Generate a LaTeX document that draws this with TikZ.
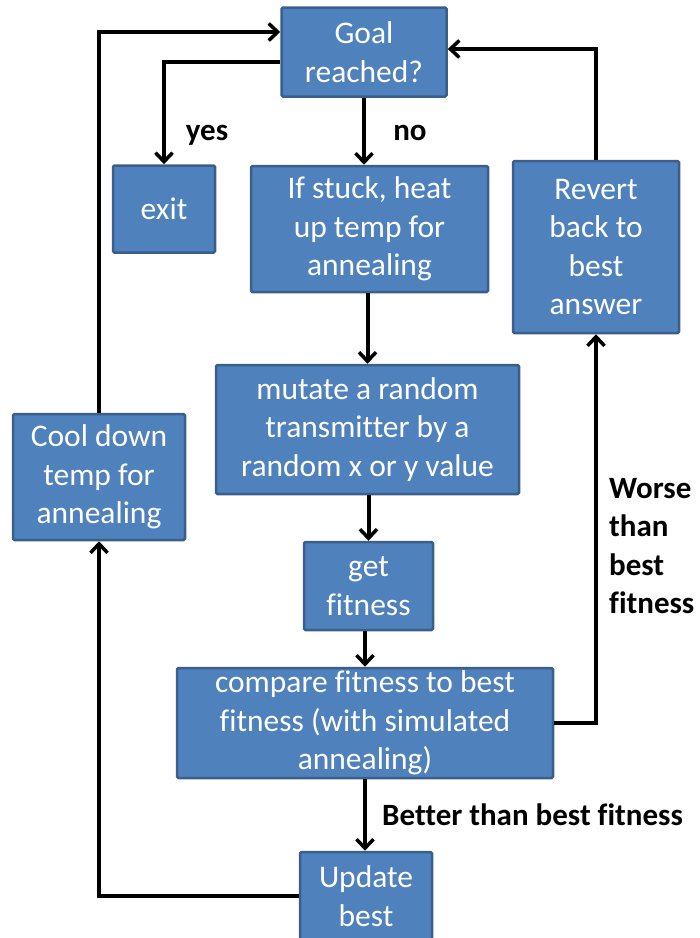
\documentclass[tikz,border=0pt]{standalone}
\usepackage{fontspec}
\setmainfont[Ligatures=NoCommon]{Carlito}
\usetikzlibrary{arrows.meta}
\definecolor{boxfill}{HTML}{4F81BD}
\definecolor{boxline}{HTML}{3A5F8C}
\tikzset{
  flowbox/.style={draw=boxline, line width=2.5pt, fill=boxfill, text=white,
    rounded corners=1.5pt, align=center, inner sep=0pt,
    font=\fontsize{31.5}{38.5}\selectfont},
  link/.style={line width=4pt, -{Straight Barb[length=9pt,width=17pt,line width=3.5pt]}},
  note/.style={font=\fontsize{31}{38.5}\selectfont\bfseries, text=black, inner sep=0pt}
}
\begin{document}
\begin{tikzpicture}[x=1pt,y=-1pt]
  \useasboundingbox (0,0) rectangle (700,938);
  \clip (0,0) rectangle (700,938);
  % process boxes
  \node[flowbox, minimum width=165pt, minimum height=89pt]  (goal)    at (364,52)    {Goal\\reached?};
  \node[flowbox, minimum width=102pt, minimum height=87pt]  (exit)    at (164,209)   {exit};
  \node[flowbox, minimum width=237pt, minimum height=126pt] (stuck)   at (369.5,229) {If stuck, heat\\up temp for\\annealing};
  \node[flowbox, minimum width=166pt, minimum height=172pt] (revert)  at (596,247)   {Revert\\back to\\best\\answer};
  \node[flowbox, minimum width=303pt, minimum height=129pt] (mutate)  at (367.5,429.5) {mutate a random\\transmitter by a\\random x or y value};
  \node[flowbox, minimum width=172pt, minimum height=126pt] (cool)    at (99,477)    {Cool down\\temp for\\annealing};
  \node[flowbox, minimum width=129pt, minimum height=88pt]  (getfit)  at (368.5,586) {get\\fitness};
  \node[flowbox, minimum width=376pt, minimum height=110pt] (compare) at (365,723)   {compare fitness to best\\fitness (with simulated\\annealing)};
  \node[flowbox, minimum width=132pt, minimum height=88pt]  (update)  at (366,896)   {Update\\best};

  % connectors
  \draw[link] (goal.south) -- (goal.south |- stuck.north);
  \draw[link] ([yshift=-10pt]goal.west) -| (exit.north);
  \draw[link] (cool.north) |- ([yshift=20pt]goal.west);
  \draw[link] (revert.north) |- ([yshift=3pt]goal.east);
  \draw[link] (mutate.north |- stuck.south) -- (mutate.north);
  \draw[link] (getfit.north |- mutate.south) -- (getfit.north);
  \draw[link] (compare.north |- getfit.south) -- (compare.north);
  \draw[link] (compare.east) -| (revert.south);
  \draw[link] (compare.south) -- (compare.south |- update.north);
  \draw[link] (update.west) -| (cool.south);

  % branch labels
  \node[note] (yes)    at (207,135) {yes};
  \node[note] (no)     at (410,133) {no};
  \node[note, anchor=west] (better) at (382,815) {Better than best fitness};
  \node[note, anchor=west, align=left] (worse) at (609,546) {Worse\\than\\best\\fitness};
\end{tikzpicture}
\end{document}
